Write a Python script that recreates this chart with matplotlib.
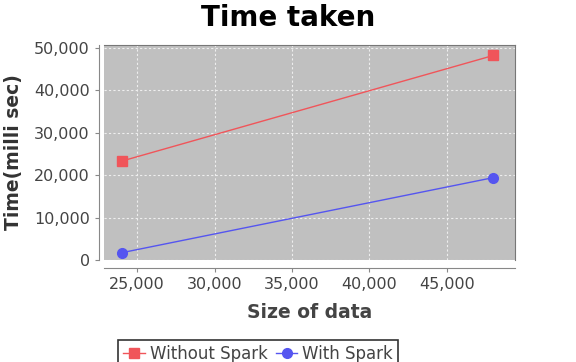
import matplotlib.pyplot as plt
from matplotlib.ticker import FuncFormatter

# --- data ---
sizes = [24000, 48000]
without_spark = [23300, 48200]
with_spark = [1700, 19400]
x_ticks = [25000, 30000, 35000, 40000, 45000]
y_ticks = [0, 10000, 20000, 30000, 40000, 50000]

fig = plt.figure(figsize=(5.76, 3.62), dpi=100)
ax = fig.add_axes([0.181, 0.282, 0.713, 0.594])
ax.set_facecolor('#c0c0c0')

ax.plot(sizes, without_spark, color='#f0555a', lw=1, marker='s', ms=7,
        label='Without Spark')
ax.plot(sizes, with_spark, color='#5555f0', lw=1, marker='o', ms=7,
        label='With Spark')

ax.set_xlim(22870, 49400)
ax.set_ylim(0, 50700)
ax.set_xticks(x_ticks)
ax.set_yticks(y_ticks)
comma = FuncFormatter(lambda v, p: f'{int(v):,}')
ax.xaxis.set_major_formatter(comma)
ax.yaxis.set_major_formatter(comma)

ax.grid(True, color='#eeeeee', ls=(0, (2, 2)), lw=0.8)
ax.set_axisbelow(True)

for s in ('top', 'right'):
    ax.spines[s].set_color('#777777')
ax.spines['left'].set_position(('outward', 4))
ax.spines['bottom'].set_position(('outward', 6))
for s in ('left', 'bottom'):
    ax.spines[s].set_color('#888888')
ax.tick_params(colors='#888888', labelcolor='#444444', labelsize=11.5, length=3)

ax.set_xlabel('Size of data', fontsize=13.5, fontweight='bold', color='#444444',
              labelpad=8)
ax.set_ylabel('Time(milli sec)', fontsize=13.5, fontweight='bold', color='#333333',
              labelpad=8)

fig.suptitle('Time taken', fontsize=20, fontweight='heavy', y=0.99)

leg = fig.legend(loc='upper center', bbox_to_anchor=(0.448, 0.085), ncol=2,
                 frameon=True, fancybox=False, fontsize=12, handlelength=1.3,
                 handletextpad=0.3, columnspacing=0.5, borderpad=0.3)
leg.get_frame().set_edgecolor('black')
leg.get_frame().set_linewidth(1.2)
for t in leg.get_texts():
    t.set_color('#444444')

fig.savefig('out.png', dpi=100)
